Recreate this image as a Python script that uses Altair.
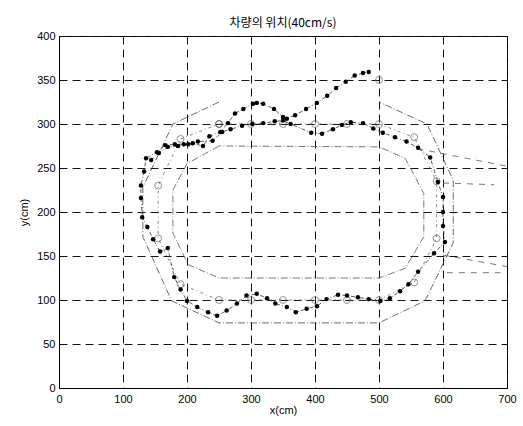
import altair as alt
import pandas as pd

TITLE = "차량의 위치(40cm/s)"
X_TICKS = [0, 100, 200, 300, 400, 500, 600, 700]
Y_TICKS = [0, 50, 100, 150, 200, 250, 300, 350, 400]

# outer road boundary (open at the top middle)
outer_x = [250, 178, 131, 131, 176, 250, 500, 572, 616, 616, 575, 500]
outer_y = [325, 300, 228, 172, 99, 74, 74, 99, 165, 236, 300, 325]

# inner road boundary (closed)
inner_x = [250, 200, 178, 178, 202, 250, 500, 541, 570, 570, 541, 500, 250]
inner_y = [275, 255, 225, 176, 140, 125, 125, 136, 172, 221, 261, 274, 275]

# waypoints (centre line)
way_x = [250, 300, 350, 400, 450, 500, 555, 590, 590, 555, 500, 450, 400, 350, 300, 250, 190, 155, 155, 190, 250]
way_y = [300, 300, 300, 300, 300, 300, 285, 235, 170, 120, 100, 100, 100, 100, 100, 100, 118, 170, 230, 283, 300]
target_x = [500]
target_y = [350]

# extra dashed rays on the right
ray_id = [1, 1, 2, 2, 3, 3, 4, 4]
ray_x = [560, 700, 600, 680, 600, 700, 606, 690]
ray_y = [272, 252, 233, 231, 151, 138, 131, 131]

# vehicle trajectory
trace_x = [144, 156, 170, 186, 202, 217, 240, 255, 268, 286, 302, 319, 337, 350, 362, 394, 411, 428, 442,
           456, 475, 491, 506, 525, 543, 561, 580, 592, 600, 600, 600, 603, 586, 561, 546, 533, 517, 502,
           484, 467, 450, 436, 418, 403, 387, 370, 356, 338, 325, 309, 293, 278, 262, 247, 233, 216, 200,
           190, 180, 170, 158, 147, 138, 130, 128, 128, 133, 136, 153, 166, 181, 195, 209, 225, 235, 252,
           264, 275, 288, 303, 309, 319, 336, 350, 356, 369, 386, 403, 419, 433, 448, 462, 475, 484]
trace_y = [259, 267, 274, 275, 277, 280, 281, 291, 294, 298, 300, 301, 303, 304, 300, 290, 289, 294, 299,
           302, 301, 295, 290, 285, 280, 273, 262, 234, 217, 200, 184, 166, 153, 132, 118, 110, 102, 99,
           101, 103, 105, 106, 101, 93, 90, 86, 92, 96, 102, 107, 105, 96, 88, 82, 86, 92, 99,
           112, 126, 159, 155, 169, 183, 194, 216, 230, 246, 261, 268, 276, 277, 277, 278, 275, 286, 291,
           301, 312, 317, 323, 324, 323, 317, 308, 306, 310, 317, 324, 332, 341, 348, 355, 358, 359]

outer_df = pd.DataFrame({"x": outer_x, "y": outer_y, "o": range(len(outer_x))})
inner_df = pd.DataFrame({"x": inner_x, "y": inner_y, "o": range(len(inner_x))})
way_df = pd.DataFrame({"x": way_x, "y": way_y, "o": range(len(way_x))})
target_df = pd.DataFrame({"x": target_x, "y": target_y})
ray_df = pd.DataFrame({"x": ray_x, "y": ray_y, "id": ray_id, "o": range(len(ray_x))})
trace_df = pd.DataFrame({"x": trace_x, "y": trace_y, "o": range(len(trace_x))})

FONT = "Liberation Sans"
xs = alt.Scale(domain=[0, 700], nice=False, zero=False)
ys = alt.Scale(domain=[0, 400], nice=False, zero=False)
xax = alt.Axis(values=X_TICKS, title="x(cm)", grid=True, gridDash=[8, 5], gridColor="#111", gridWidth=1,
               ticks=False, labelPadding=5, labelFont=FONT, labelFontSize=11, labelColor="#000",
               titleFont=FONT, titleFontSize=11, titleFontWeight="normal", titleColor="#000", titlePadding=0,
               domainColor="#000", labelFlush=False)
yax = alt.Axis(values=Y_TICKS, title="y(cm)", grid=True, gridDash=[8, 5], gridColor="#111", gridWidth=1,
               ticks=False, labelPadding=4, labelFont=FONT, labelFontSize=11, labelColor="#000",
               titleFont=FONT, titleFontSize=11, titleFontWeight="normal", titleColor="#000", titlePadding=7,
               domainColor="#000", labelFlush=False)

def X():
    return alt.X("x:Q", scale=xs, axis=xax)

def Y():
    return alt.Y("y:Q", scale=ys, axis=yax)

outer = alt.Chart(outer_df).mark_line(color="#444", strokeWidth=0.8, strokeDash=[7, 2, 1, 2]).encode(
    x=X(), y=Y(), order="o:Q")
inner = alt.Chart(inner_df).mark_line(color="#555", strokeWidth=0.8, strokeDash=[7, 2, 1, 2]).encode(
    x=X(), y=Y(), order="o:Q")
rays = alt.Chart(ray_df).mark_line(color="#555", strokeWidth=0.8, strokeDash=[6, 6]).encode(
    x=X(), y=Y(), detail="id:N", order="o:Q")
way_line = alt.Chart(way_df).mark_line(color="#666", strokeWidth=0.8, strokeDash=[3, 3, 1, 3]).encode(
    x=X(), y=Y(), order="o:Q")
way_pts = alt.Chart(way_df).mark_point(shape="circle", size=48, filled=False, color="#555", strokeWidth=0.9).encode(
    x=X(), y=Y())
target = alt.Chart(target_df).mark_point(shape="circle", size=48, filled=False, color="#555", strokeWidth=0.9).encode(
    x=X(), y=Y())
trace_line = alt.Chart(trace_df).mark_line(color="#333", strokeWidth=0.8, strokeDash=[4, 2, 1, 2]).encode(
    x=X(), y=Y(), order="o:Q")
trace_pts = alt.Chart(trace_df).mark_point(shape="circle", size=20, filled=True, color="#000", opacity=1).encode(
    x=X(), y=Y())

chart = alt.layer(outer, inner, rays, way_line, way_pts, target, trace_line, trace_pts).properties(
    width=448, height=352,
    title=alt.TitleParams(TITLE, font="Noto Sans CJK KR", fontSize=12, fontWeight="normal", color="#000", offset=0),
    autosize=alt.AutoSizeParams(type="none"),
    padding={"left": 59, "top": 36, "right": 16, "bottom": 38},
    background="white",
).configure_view(stroke="#000", strokeWidth=1)

chart.save("out.html", embed_options={"renderer": "svg", "actions": False})
